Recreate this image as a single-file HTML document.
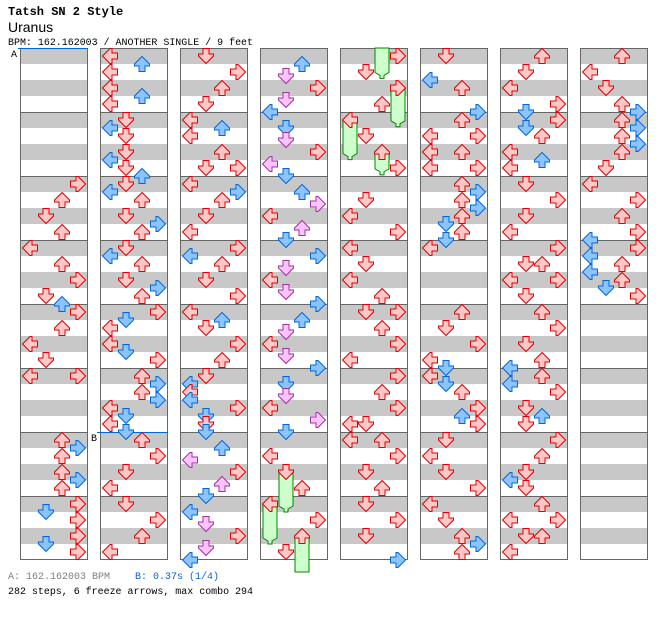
<!DOCTYPE html>
<html><head><meta charset="utf-8"><style>
html,body{margin:0;padding:0;background:#fff;width:672px;height:620px;overflow:hidden}
svg{position:absolute;left:0;top:0}
</style></head><body>
<svg id="s" width="672" height="620" xmlns="http://www.w3.org/2000/svg">
<text x="8" y="15" font-family="Liberation Mono, monospace" font-weight="bold" font-size="12">Tatsh SN 2 Style</text>
<text x="8" y="32" font-family="Liberation Sans, sans-serif" font-size="14">Uranus</text>
<text x="8" y="45" font-family="Liberation Mono, monospace" font-size="10" textLength="245" lengthAdjust="spacingAndGlyphs">BPM: 162.162003 / ANOTHER SINGLE / 9 feet</text>
<text x="8" y="579" font-family="Liberation Mono, monospace" font-size="10" fill="#808080">A: 162.162003 BPM</text>
<text x="135" y="579" font-family="Liberation Mono, monospace" font-size="10" fill="#0066dd">B: 0.37s (1/4)</text>
<text x="8" y="594" font-family="Liberation Mono, monospace" font-size="10" textLength="245" lengthAdjust="spacingAndGlyphs">282 steps, 6 freeze arrows, max combo 294</text>
<g id="g"></g>
</svg>
<script>
var NS="http://www.w3.org/2000/svg",g=document.getElementById('g');
function el(t,a){var e=document.createElementNS(NS,t);for(var k in a)e.setAttribute(k,a[k]);g.appendChild(e);return e;}
var cols=[
"16R 18U 20D 22U 24L 26U 28R 30D 31Ub 32R 34U 36L 38D 40L 40R 48U 49Rb 50U 52U 53Rb 54U 56R 57Db 58R 60R 61Db 62R",
"0L 1Ub 2L 4L 5Ub 6L 8D 9Lb 10D 12D 13Lb 14D 15Ub 16D 17Lb 18U 20D 21Rb 22U 24D 25Lb 26U 28D 29Rb 30U 32R 33Db 34L 36L 37Db 38R 40U 41Rb 42U 43Rb 44L 45Db 46L 47Db 48U 50R 52D 54L 56D 58R 60U 62L",
"0D 2R 4U 6D 8L 9Ub 10L 12U 14D 14R 16L 17Rb 18U 20D 22L 24R 25Lb 26U 28D 30R 32L 33Ub 34D 36R 38U 40D 41Lb 42L 43Lb 44R 45Db 46D 47Db 49Ub 50.5Lm 52R 53.5Um 55Db 57Lb 58.5Dm 60R 61.5Dm 63Lb",
"1Ub 2.5Dm 4R 5.5Dm 7Lb 9Db 10.5Dm 12R 13.5Lm 15Db 17Ub 18.5Rm 20L 21.5Um 23Db 25Rb 26.5Dm 28L 29.5Dm 31Rb 33Ub 34.5Dm 36L 37.5Dm 39Rb 41Db 42.5Dm 44L 45.5Rm 47Db 50L 52D 54U 56L 58R 60U 62D",
"0R 2D 4R 6U 8L 10D 12U 14R 18D 20L 22R 24L 26D 28L 30U 32D 32R 34U 36R 38L 40R 42U 44R 46L 46D 48L 48U 50R 52D 54U 56D 58R 60D 63Rb",
"0D 3Lb 4U 7Rb 8U 10L 10R 12L 12U 14L 14R 16U 17Rb 18U 19Rb 20U 21Db 22U 23Db 24L 32U 34D 36R 38L 39Db 40L 41Db 42U 44R 45Ub 46R 48D 50L 52D 54R 56L 58D 60U 61Rb 62U",
"0U 2D 4L 6R 7Db 8R 9Db 10U 12L 13Ub 14L 16D 18R 20D 22L 24R 26D 26U 28L 28R 30D 32U 34R 36D 38U 39Lb 40U 41Lb 42R 44D 45Ub 46D 48R 50U 52D 53Lb 54D 56U 58L 58R 60D 60U 62L",
"0U 2L 4D 6U 7Rb 8U 9Rb 10U 11Rb 12U 14D 16L 18R 20U 22R 23Lb 24R 25Lb 26U 27Lb 28U 29Db 30R"];
var freezes=[[3,1,52,57,1],[3,0,56,61,1],[3,2,60,64.5,0],[4,2,-1,2.8,1],[4,3,4,8.85,1],[4,0,8,12.95,1],[4,2,12,14.86,1]];
var LN={L:0,D:1,U:2,R:3},ROT=[-90,180,0,90];
var CL={r:["#ffc8c8","#e00000"],b:["#8cc4ff","#0066dd"],m:["#ffc4ff","#a030a0"]};
for(var c=0;c<8;c++){var x=20+80*c;
 el('rect',{x:x,y:48,width:68,height:512,fill:'#fff'});
 for(var m=0;m<8;m++){var y=48+64*m;
  el('rect',{x:x,y:y,width:68,height:16,fill:'#c8c8c8'});
  el('rect',{x:x,y:y+32,width:68,height:16,fill:'#c8c8c8'});
  if(m>0)el('line',{x1:x,y1:y+0.5,x2:x+68,y2:y+0.5,stroke:'#666','stroke-width':1});
 }
 el('rect',{x:x+0.5,y:48.5,width:67,height:511,fill:'none',stroke:'#666','stroke-width':1});
}
el('line',{x1:18,y1:48.5,x2:88,y2:48.5,stroke:'#0066dd','stroke-width':1});
el('line',{x1:97,y1:432.5,x2:168,y2:432.5,stroke:'#0066dd','stroke-width':1});
var t=el('text',{x:11,y:57,'font-family':'Liberation Mono, monospace','font-size':'10'});t.textContent='A';
t=el('text',{x:91,y:441,'font-family':'Liberation Mono, monospace','font-size':'10'});t.textContent='B';
freezes.forEach(function(f){var lx=20+80*f[0]+2+16*f[1];var y1=Math.max(48,56+8*f[2]);var y2=56+8*f[3];
 var pts;
 if(f[4])pts=[[lx+1,y1],[lx+15,y1],[lx+15,y2-6],[lx+10,y2-3],[lx+10,y2],[lx+6,y2],[lx+6,y2-3],[lx+1,y2-6]];
 else pts=[[lx+1,y1],[lx+15,y1],[lx+15,y2],[lx+1,y2]];
 el('polygon',{points:pts.map(function(p){return p.join(',')}).join(' '),fill:'#ccffcc',stroke:'#008800','stroke-width':1});
});
var AP="8,0.5 15.5,8 15.5,10 11,10 11,15.5 5,15.5 5,10 0.5,10 0.5,8";
cols.forEach(function(s,c){s.split(' ').forEach(function(tok){
 var m=tok.match(/^([\d.]+)([LDUR])([bm]?)$/);var p=parseFloat(m[1]),ln=LN[m[2]],col=CL[m[3]||'r'];
 var cx=20+80*c+10+16*ln,cy=56+8*p;
 el('polygon',{points:AP,fill:col[0],stroke:col[1],'stroke-width':1,
  transform:'translate('+(cx-8)+','+(cy-8)+') rotate('+ROT[ln]+' 8 8)'});
});});
</script>
</body></html>
